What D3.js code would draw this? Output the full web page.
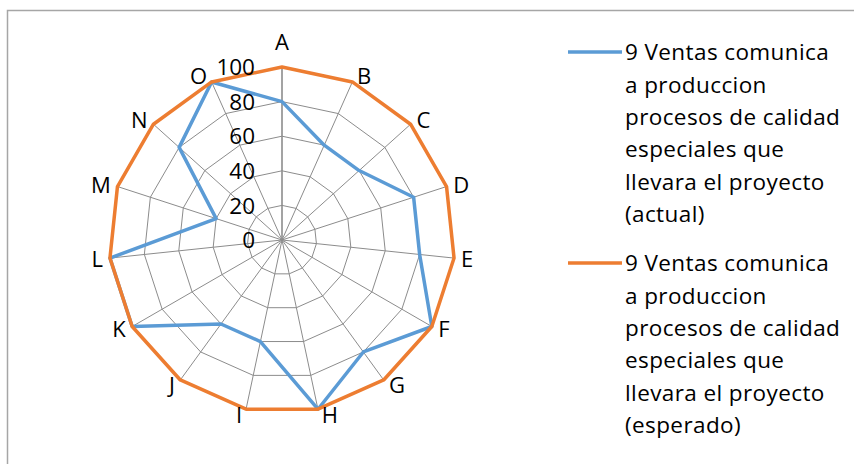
<!DOCTYPE html>
<html>
<head>
<meta charset="utf-8">
<script src="https://cdn.jsdelivr.net/npm/d3@7"></script>
<style>
  html, body { margin: 0; padding: 0; background: #fff; }
  svg { display: block; font-family: "Open Sans", "Noto Sans", sans-serif; }
</style>
</head>
<body>
<svg id="chart" width="854" height="464"></svg>
<script>
// Radar categories and the two series
const categories = ["A", "B", "C", "D", "E", "F", "G", "H", "I", "J", "K", "L", "M", "N", "O"];
const actualValues = [80, 60, 60, 80, 80, 100, 80, 100, 60, 60, 100, 100, 40, 80, 100];
const expectedValues = [100, 100, 100, 100, 100, 100, 100, 100, 100, 100, 100, 100, 100, 100, 100];
const tickValues = [0, 20, 40, 60, 80, 100];
// series names, broken into legend lines
const actualNameLines = ["9 Ventas comunica", "a produccion", "procesos de calidad", "especiales que", "llevara el proyecto", "(actual)"];
const expectedNameLines = ["9 Ventas comunica", "a produccion", "procesos de calidad", "especiales que", "llevara el proyecto", "(esperado)"];
const seriesColors = ["#5B9BD5", "#ED7D31"];

const svg = d3.select("#chart");
const W = 854, H = 464;
svg.append("rect").attr("width", W).attr("height", H).attr("fill", "#fff");

// chart frame (runs off the right and bottom edges)
svg.append("rect")
  .attr("x", 7.5).attr("y", 10.5).attr("width", 1000).attr("height", 1000)
  .attr("fill", "none").attr("stroke", "#a6a6a6").attr("stroke-width", 1.5);

const cx = 282, cy = 240, R = 173;
const r = d3.scaleLinear().domain([0, 100]).range([0, R]);
const step = 2 * Math.PI / categories.length;
const ang = c => categories.indexOf(c) * step;

const g = svg.append("g").attr("transform", `translate(${cx},${cy})`);

const radial = d3.lineRadial()
  .angle(d => ang(d.c))
  .radius(d => r(d.v))
  .curve(d3.curveLinearClosed);

// concentric grid polygons
g.append("g").selectAll("path")
  .data(tickValues.filter(t => t > 0))
  .join("path")
  .attr("d", t => radial(categories.map(c => ({ c, v: t }))))
  .attr("fill", "none")
  .attr("stroke", "#8c8c8c")
  .attr("stroke-width", 1);

// spokes
g.append("g").selectAll("line")
  .data(categories)
  .join("line")
  .attr("x1", 0).attr("y1", 0)
  .attr("x2", c => r(100) * Math.sin(ang(c)))
  .attr("y2", c => -r(100) * Math.cos(ang(c)))
  .attr("stroke", "#8c8c8c")
  .attr("stroke-width", (c, i) => i === 0 ? 1.6 : 1);

// series lines
const series = [actualValues, expectedValues];
g.append("g").selectAll("path")
  .data(series)
  .join("path")
  .attr("d", vals => radial(categories.map((c, i) => ({ c, v: vals[i] }))))
  .attr("fill", "none")
  .attr("stroke", (d, i) => seriesColors[i])
  .attr("stroke-width", 3.5)
  .attr("stroke-linejoin", "round");

// value ticks along the first spoke
g.append("g").selectAll("text")
  .data(tickValues)
  .join("text")
  .attr("x", -27)
  .attr("y", t => -r(t))
  .attr("dy", "0.36em")
  .attr("text-anchor", "end")
  .attr("font-size", 22.5)
  .attr("fill", "#000")
  .text(t => t);

// category labels placed just outside each vertex
const capH = 22 * 0.714;
g.append("g").selectAll("text")
  .data(categories)
  .join("text")
  .each(function (c) {
    const a = ang(c);
    const ux = Math.sin(a), uy = -Math.cos(a);
    const vx = r(100) * ux, vy = r(100) * uy;
    const t = d3.select(this);
    if (Math.abs(ux) < 0.05) {
      t.attr("x", vx).attr("y", vy - 17).attr("text-anchor", "middle");
    } else {
      const gap = 3 + 4 * Math.abs(ux);
      t.attr("x", vx + (ux > 0 ? gap : -gap))
        .attr("y", vy + 6 * uy + capH / 2)
        .attr("text-anchor", ux > 0 ? "start" : "end");
    }
  })
  .attr("font-size", 22)
  .attr("fill", "#000")
  .text(c => c);

// legend
const legendX = 568, legendTextX = 625, lineH = 32.4;
const legendTops = [52, 263];
const legendFont = 22.5, legendSpacing = 0.4;
[actualNameLines, expectedNameLines].forEach((lines, i) => {
  const lg = svg.append("g");
  lg.append("line")
    .attr("x1", legendX).attr("x2", legendTextX - 3)
    .attr("y1", legendTops[i]).attr("y2", legendTops[i])
    .attr("stroke", seriesColors[i]).attr("stroke-width", 3.5);
  lg.selectAll("text")
    .data(lines)
    .join("text")
    .attr("x", legendTextX)
    .attr("y", (d, k) => legendTops[i] + k * lineH)
    .attr("dy", "0.36em")
    .attr("font-size", legendFont)
    .attr("letter-spacing", legendSpacing)
    .attr("fill", "#000")
    .text(d => d);
});
</script>
</body>
</html>
